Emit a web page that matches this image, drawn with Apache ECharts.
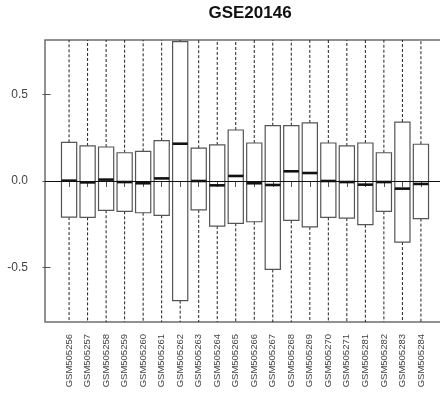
<!DOCTYPE html>
<html>
<head>
<meta charset="utf-8">
<script src="https://cdn.jsdelivr.net/npm/echarts@6/dist/echarts.min.js"></script>
<style>html,body{margin:0;padding:0;background:#fff}#c{width:440px;height:394px}</style>
</head>
<body>
<div id="c"></div>
<script>
var title = "GSE20146";
var samples = ["GSM505256","GSM505257","GSM505258","GSM505259","GSM505260","GSM505261","GSM505262","GSM505263","GSM505264","GSM505265","GSM505266","GSM505267","GSM505268","GSM505269","GSM505270","GSM505271","GSM505281","GSM505282","GSM505283","GSM505284"];
var q1 =     [-0.208,-0.210,-0.169,-0.175,-0.183,-0.198,-0.690,-0.167,-0.260,-0.244,-0.235,-0.510,-0.227,-0.265,-0.210,-0.214,-0.252,-0.175,-0.352,-0.217];
var medians =[ 0.002,-0.008, 0.008,-0.006,-0.013, 0.015, 0.215, 0.000,-0.025, 0.029,-0.013,-0.023, 0.056, 0.046, 0.000,-0.006,-0.021,-0.006,-0.044,-0.017];
var q3 =     [ 0.223, 0.202, 0.196, 0.163, 0.171, 0.233, 0.804, 0.189, 0.208, 0.294, 0.219, 0.319, 0.319, 0.335, 0.219, 0.202, 0.219, 0.163, 0.340, 0.212];
var whiskerLow =  [-1.0,-1.0,-1.0,-1.0,-1.0,-1.0,-1.6,-1.0,-1.1,-1.1,-1.1,-1.6,-1.0,-1.1,-1.0,-1.0,-1.1,-1.0,-1.3,-1.0];
var whiskerHigh = [ 1.0, 1.0, 1.0, 1.0, 1.0, 1.0, 1.8, 1.0, 1.0, 1.1, 1.0, 1.2, 1.2, 1.2, 1.0, 1.0, 1.0, 1.0, 1.2, 1.0];
var yTicks = [-0.5, 0, 0.5];

var positions = samples.map(function(s, i){ return i + 1; });
var data = samples.map(function(s, i){
  return [i + 1, whiskerLow[i], q1[i], medians[i], q3[i], whiskerHigh[i]];
});

var chart = echarts.init(document.getElementById('c'), null, {renderer:'canvas'});
chart.setOption({
  animation: false,
  backgroundColor: '#fff',
  title: {
    text: title, left: 245, top: 0, textAlign: 'center',
    textStyle: {fontFamily: 'Liberation Sans, Arial, sans-serif', fontSize: 17, fontWeight: 'bold', color: '#111'}
  },
  grid: {left: 45, top: 40, width: 400, height: 282, outerBoundsMode: 'none', show: true, borderColor: '#6e6e6e', borderWidth: 1.5, backgroundColor: 'transparent', containLabel: false},
  xAxis: {
    type: 'value', min: -0.3, max: 21.3,
    splitLine: {show: false}, axisLine: {show: false},
    axisTick: {show: true, length: 6, customValues: positions, lineStyle: {color: '#555'}},
    axisLabel: {
      customValues: positions, rotate: 90, margin: 12,
      fontFamily: 'Liberation Sans, Arial, sans-serif', fontSize: 9.5, color: '#444',
      formatter: function(v){ return samples[Math.round(v) - 1] || ''; }
    }
  },
  yAxis: {
    type: 'value', min: -0.813, max: 0.813,
    splitLine: {show: false}, axisLine: {show: false},
    axisTick: {show: true, length: 8, customValues: yTicks, lineStyle: {color: '#555'}},
    axisLabel: {
      customValues: yTicks, margin: 17,
      fontFamily: 'Liberation Sans, Arial, sans-serif', fontSize: 12, color: '#444',
      formatter: function(v){ return v.toFixed(1); }
    }
  },
  series: [{
    type: 'custom',
    clip: true,
    data: data,
    encode: {x: 0, y: [1,2,3,4,5]},
    renderItem: function(params, api){
      var x = api.value(0);
      var pLow = api.coord([x, api.value(1)]);
      var pQ1 = api.coord([x, api.value(2)]);
      var pMed = api.coord([x, api.value(3)]);
      var pQ3 = api.coord([x, api.value(4)]);
      var pHigh = api.coord([x, api.value(5)]);
      var w = api.size([0.82, 0])[0];
      var cx = pQ1[0];
      var dash = {stroke: '#222', lineWidth: 1, lineDash: [3, 2]};
      return {
        type: 'group',
        children: [
          {type: 'line', shape: {x1: cx, y1: pQ3[1], x2: cx, y2: pHigh[1]}, style: dash},
          {type: 'line', shape: {x1: cx, y1: pQ1[1], x2: cx, y2: pLow[1]}, style: dash},
          {type: 'rect', shape: {x: cx - w/2, y: pQ3[1], width: w, height: pQ1[1] - pQ3[1]}, style: {fill: 'transparent', stroke: '#555', lineWidth: 1.2}},
          {type: 'line', shape: {x1: cx - w/2, y1: pMed[1], x2: cx + w/2, y2: pMed[1]}, style: {stroke: '#111', lineWidth: 2.6}}
        ]
      };
    },
    markLine: {
      silent: true, symbol: 'none', label: {show: false},
      lineStyle: {color: '#111', type: 'solid', width: 1},
      data: [{yAxis: 0}]
    }
  }]
});
</script>
</body>
</html>
